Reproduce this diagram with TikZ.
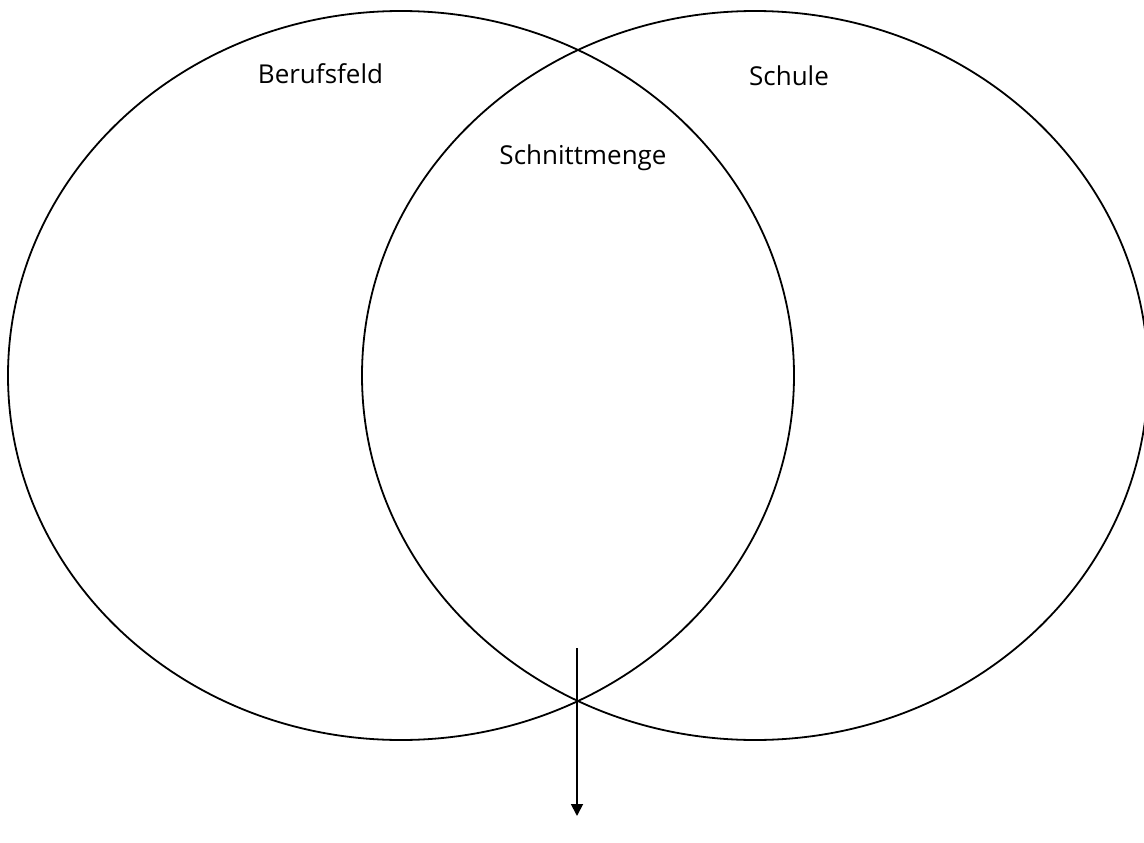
\documentclass[tikz,border=0pt]{standalone}
\usepackage{fontspec}
\setmainfont{Open Sans}
\usetikzlibrary{shapes.geometric,arrows.meta}
\begin{document}
\begin{tikzpicture}[x=1pt,y=-1pt,
  setellipse/.style={ellipse,draw,line width=1.8pt,inner sep=0pt,minimum width=786pt,minimum height=729pt},
  lbl/.style={anchor=base,font=\fontsize{26}{30}\selectfont,inner sep=0pt},
  conn/.style={line width=1.8pt,-{Triangle[width=12pt,length=12pt]}}]
\useasboundingbox (0,0) rectangle (1144,843);
\node[setellipse] (berufsfeld) at (401,375.5) {};
\node[setellipse] (schule) at (755,375.5) {};
\node[lbl] (tb) at (320.5,84) {Berufsfeld};
\node[lbl] (ts) at (789,85) {Schule};
\node[lbl] (tsm) at (583,164) {Schnittmenge};
\coordinate (a1) at (577,648);
\coordinate (a2) at (577,816);
\draw[conn] (a1) -- (a2);
\end{tikzpicture}
\end{document}
